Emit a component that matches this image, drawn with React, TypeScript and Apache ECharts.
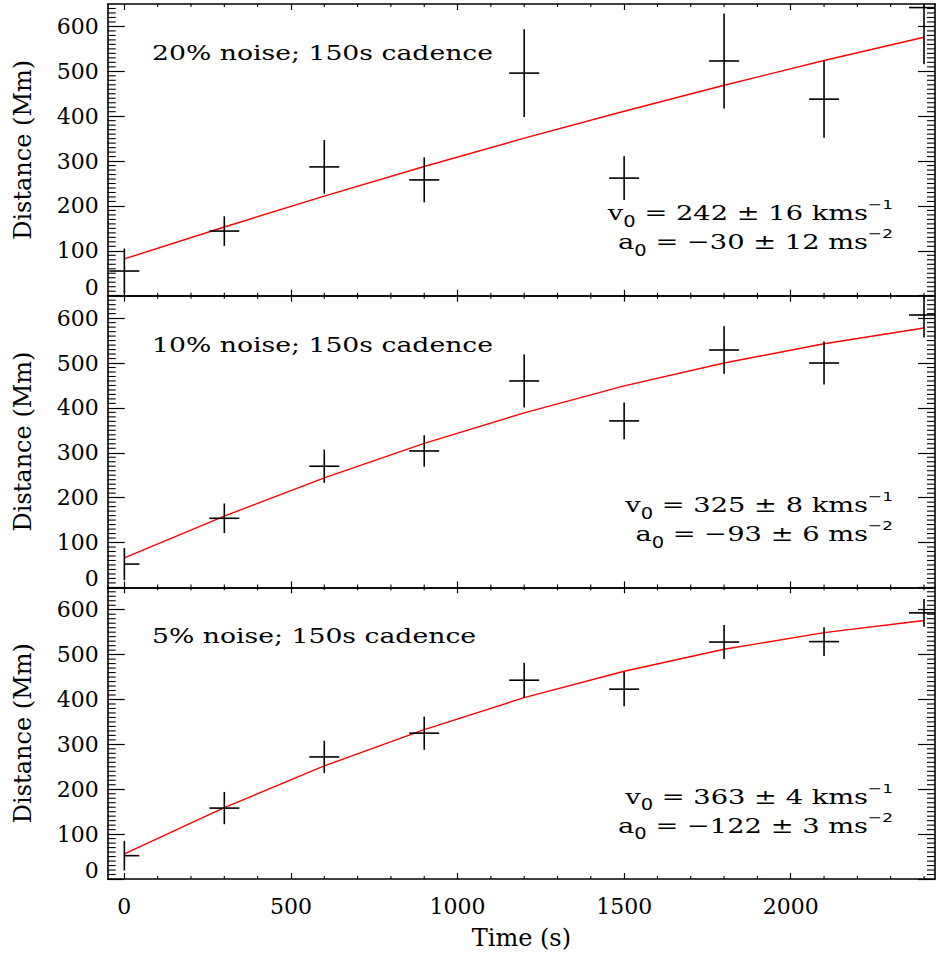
import React, { useEffect, useRef } from 'react';
import * as echarts from 'echarts';

// ---- data ----
const times = [0, 300, 600, 900, 1200, 1500, 1800, 2100, 2400];

const dist20 = [55, 144, 287, 258, 496, 262, 523, 438, 642];
const err20 = [50, 33, 60, 50, 98, 49, 106, 86, 126];
const fit20 = [82, 153, 222, 288, 351, 411, 469, 524, 576];

const dist10 = [52, 154, 270, 304, 460, 371, 529, 500, 607];
const err10 = [36, 33, 37, 35, 59, 41, 53, 48, 50];
const fit10 = [66, 159, 244, 321, 389, 449, 500, 543, 578];

const dist5 = [52, 158, 272, 325, 443, 423, 528, 529, 593];
const err5 = [33, 36, 36, 37, 39, 38, 38, 32, 31];
const fit5 = [56, 159, 252, 333, 404, 463, 512, 549, 576];

const timeErrLeft20 = [45, 45, 45, 45, 45, 45, 45, 45, 45];
const timeErrLeft10 = [0, 45, 45, 45, 45, 45, 45, 45, 45];
const timeErrLeft5 = [0, 45, 45, 45, 45, 45, 45, 45, 45];
const timeErrRight = [45, 45, 45, 45, 45, 45, 45, 45, 45];

const panelTitles = ['20% noise; 150s cadence', '10% noise; 150s cadence', '5% noise; 150s cadence'];
const v0Texts = ['242 ± 16', '325 ± 8', '363 ± 4'];
const a0Texts = ['−30 ± 12', '−93 ± 6', '−122 ± 3'];

const xTickLabels = [0, 500, 1000, 1500, 2000];
const yTickLabels = [0, 100, 200, 300, 400, 500, 600];

const XMIN = -50;
const XMAX = 2433;
const YMIN = 0;
const YMAX = 650;

const xMinorTicks: number[] = [];
for (let v = 100; v <= 2400; v += 100) if (v % 500 !== 0) xMinorTicks.push(v);
const yMinorTicks: number[] = [];
for (let v = 10; v <= 640; v += 10) if (v % 100 !== 0) yMinorTicks.push(v);

const FONT = "'DejaVu Serif', serif";
const SANS = "'DejaVu Sans', sans-serif";

const GRID_LEFT = 107.7;
const GRID_WIDTH = 827.3;
const GRID_HEIGHT = 291.7;
const panelTops = [4, 295.7, 587.3];

const panels = [
  { d: dist20, e: err20, f: fit20, xl: timeErrLeft20 },
  { d: dist10, e: err10, f: fit10, xl: timeErrLeft10 },
  { d: dist5, e: err5, f: fit5, xl: timeErrLeft5 },
];

function buildOption() {
  const grid: any[] = [];
  const xAxis: any[] = [];
  const yAxis: any[] = [];
  const series: any[] = [];
  const graphic: any[] = [];

  const lineOn = { show: true, onZero: false, lineStyle: { color: '#000', width: 1.6 } };
  const tickStyle = { color: '#000', width: 1.2 };

  panels.forEach((p, g) => {
    grid.push({ left: GRID_LEFT, width: GRID_WIDTH, top: panelTops[g], height: GRID_HEIGHT });

    const xBase = { type: 'value', gridIndex: g, min: XMIN, max: XMAX, splitLine: { show: false } };
    xAxis.push({
      ...xBase,
      position: 'bottom',
      axisLine: lineOn,
      axisTick: { show: true, inside: true, length: 6, customValues: xTickLabels, lineStyle: tickStyle },
      axisLabel: {
        show: g === 2,
        customValues: xTickLabels,
        fontFamily: FONT,
        fontSize: 22,
        color: '#000',
        margin: 16,
        formatter: (v: number) => String(v),
      },
      name: g === 2 ? 'Time (s)' : '',
      nameLocation: 'middle',
      nameGap: 47,
      nameTextStyle: { fontFamily: FONT, fontSize: 24, color: '#000' },
    });
    xAxis.push({
      ...xBase,
      position: 'top',
      axisLine: lineOn,
      axisTick: { show: true, inside: true, length: 6, customValues: xTickLabels, lineStyle: tickStyle },
      axisLabel: { show: false, customValues: xTickLabels },
    });

    const yBase = { type: 'value', gridIndex: g, min: YMIN, max: YMAX, splitLine: { show: false } };
    yAxis.push({
      ...yBase,
      position: 'left',
      axisLine: lineOn,
      axisTick: { show: true, inside: true, length: 17, customValues: yTickLabels, lineStyle: tickStyle },
      axisLabel: {
        show: true,
        customValues: yTickLabels,
        fontFamily: FONT,
        fontSize: 22,
        color: '#000',
        margin: 9,
        formatter: (v: number) => (v === 0 ? '{z|0}' : String(v)),
        rich: {
          z: { fontFamily: FONT, fontSize: 22, color: '#000', padding: [0, 0, 17, 0] },
        },
      },
      name: 'Distance (Mm)',
      nameLocation: 'middle',
      nameGap: 73,
      nameRotate: 90,
      nameTextStyle: { fontFamily: FONT, fontSize: 24, color: '#000' },
    });
    yAxis.push({
      ...yBase,
      position: 'right',
      axisLine: lineOn,
      axisTick: { show: true, inside: true, length: 17, customValues: yTickLabels, lineStyle: tickStyle },
      axisLabel: { show: false, customValues: yTickLabels },
    });

    // minor ticks, placed through the axes' own scales
    const minorData = [
      ...xMinorTicks.map((v) => [v, 0]),
      ...yMinorTicks.map((v) => [v, 1]),
    ];
    series.push({
      type: 'custom',
      xAxisIndex: g * 2,
      yAxisIndex: g * 2,
      data: minorData,
      silent: true,
      z: 1,
      renderItem: (params: any, api: any) => {
        const v = api.value(0);
        const kind = api.value(1);
        const cs = params.coordSys;
        const style = { stroke: '#000', lineWidth: 1.1 };
        if (kind === 0) {
          const px = api.coord([v, YMIN])[0];
          const b = cs.y + cs.height;
          return {
            type: 'group',
            children: [
              { type: 'line', shape: { x1: px, y1: b, x2: px, y2: b - 3 }, style },
              { type: 'line', shape: { x1: px, y1: cs.y, x2: px, y2: cs.y + 3 }, style },
            ],
          };
        }
        const py = api.coord([XMIN, v])[1];
        const r = cs.x + cs.width;
        return {
          type: 'group',
          children: [
            { type: 'line', shape: { x1: cs.x, y1: py, x2: cs.x + 8, y2: py }, style },
            { type: 'line', shape: { x1: r, y1: py, x2: r - 8, y2: py }, style },
          ],
        };
      },
    });

    series.push({
      type: 'line',
      xAxisIndex: g * 2,
      yAxisIndex: g * 2,
      data: times.map((t, i) => [t, p.f[i]]),
      showSymbol: false,
      symbol: 'none',
      lineStyle: { color: '#ff0000', width: 1.4 },
      clip: true,
      z: 2,
    });

    series.push({
      type: 'custom',
      xAxisIndex: g * 2,
      yAxisIndex: g * 2,
      data: times.map((t, i) => [t, p.d[i], p.e[i], p.xl[i], timeErrRight[i]]),
      z: 3,
      renderItem: (params: any, api: any) => {
        const t = api.value(0);
        const d = api.value(1);
        const e = api.value(2);
        const xl = api.value(3);
        const xr = api.value(4);
        const cy = (v: number) => Math.max(YMIN, Math.min(YMAX, v));
        const cx = (v: number) => Math.max(XMIN, Math.min(XMAX, v));
        const a = api.coord([t, cy(d + e)]);
        const b = api.coord([t, cy(d - e)]);
        const c = api.coord([cx(t - xl), d]);
        const dd = api.coord([cx(t + xr), d]);
        const style = { stroke: '#000', lineWidth: 1.6 };
        return {
          type: 'group',
          children: [
            { type: 'line', shape: { x1: a[0], y1: a[1], x2: b[0], y2: b[1] }, style },
            { type: 'line', shape: { x1: c[0], y1: c[1], x2: dd[0], y2: dd[1] }, style },
          ],
        };
      },
    });

    const top = panelTops[g];
    graphic.push({
      type: 'text',
      x: 152,
      y: top + 49,
      scaleX: 1.27,
      style: {
        text: panelTitles[g],
        fontFamily: FONT,
        fontSize: 21,
        fill: '#000',
        align: 'left',
        verticalAlign: 'middle',
      },
    });
    const rich = {
      m: { fontFamily: FONT, fontSize: 21, fill: '#000' },
      s: { fontFamily: SANS, fontSize: 15, fill: '#000', padding: [18, 0, 0, 0] },
      p: { fontFamily: SANS, fontSize: 13, fill: '#000', padding: [0, 0, 16, 0] },
    };
    graphic.push({
      type: 'text',
      x: 893,
      y: top + 209,
      scaleX: 1.3,
      style: {
        text: '{m|v}{s|0}{m| = ' + v0Texts[g] + ' kms}{p|−1}',
        rich,
        fontFamily: FONT,
        fontSize: 21,
        fill: '#000',
        align: 'right',
        verticalAlign: 'middle',
      },
    });
    graphic.push({
      type: 'text',
      x: 893,
      y: top + 238,
      scaleX: 1.3,
      style: {
        text: '{m|a}{s|0}{m| = ' + a0Texts[g] + ' ms}{p|−2}',
        rich,
        fontFamily: FONT,
        fontSize: 21,
        fill: '#000',
        align: 'right',
        verticalAlign: 'middle',
      },
    });
  });

  return {
    animation: false,
    backgroundColor: '#fff',
    grid,
    xAxis,
    yAxis,
    series,
    graphic,
  };
}

export default function App() {
  const ref = useRef<HTMLDivElement>(null);
  useEffect(() => {
    if (!ref.current) return;
    const chart = echarts.init(ref.current, undefined, { renderer: 'svg' });
    chart.setOption(buildOption() as any);
    return () => chart.dispose();
  }, []);
  return (
    <div
      ref={ref}
      style={{ position: 'absolute', left: 0, top: 0, width: 936, height: 955, background: '#fff' }}
    />
  );
}
